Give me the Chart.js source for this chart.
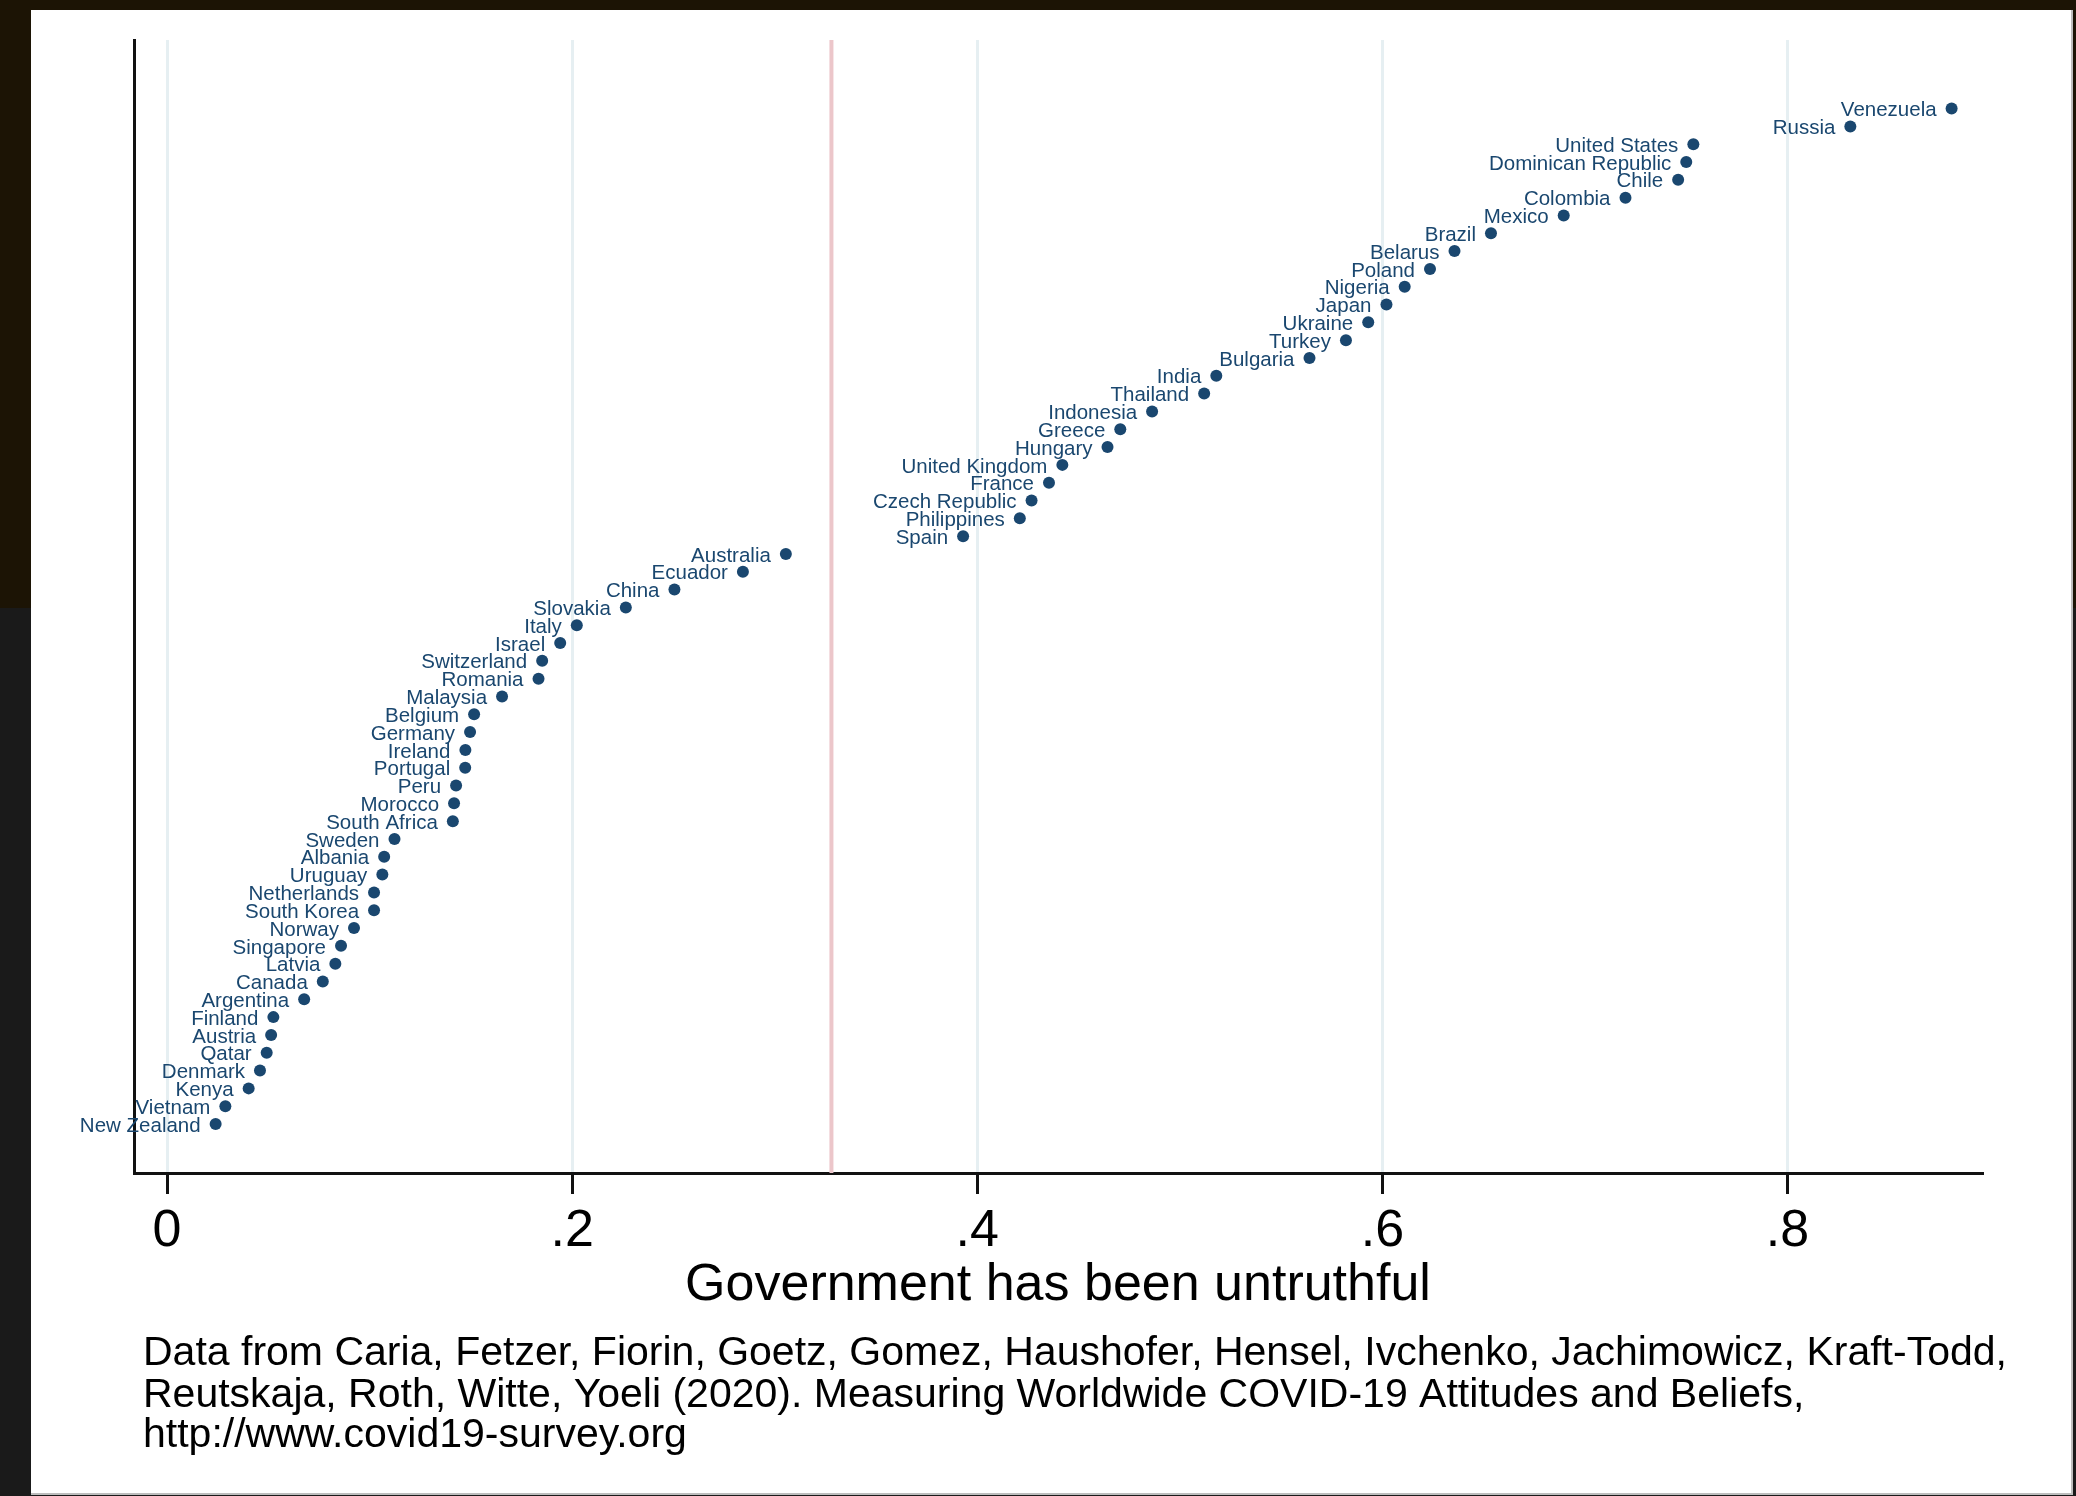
<!doctype html>
<html>
<head>
<meta charset="UTF-8">
<title>Government has been untruthful</title>
<script src="https://cdn.jsdelivr.net/npm/chart.js@4.4.1/dist/chart.umd.min.js"></script>
<style>
	html, body { margin: 0; padding: 0; }
	body {
		width: 2076px; height: 1496px; overflow: hidden;
		background: linear-gradient(to bottom, #1c1405 0, #1c1405 608px, #1a1a1a 608px);
	}
	#frame {
		position: absolute; left: 31px; top: 10px;
		width: 2040px; height: 1483px;
		background: #fff;
		border-right: 2px solid #bdbdbd; border-bottom: 2px solid #bdbdbd;
	}
</style>
</head>
<body>
<div id="frame"><canvas id="canvas"></canvas></div>
<script>
// countries, top of the chart to the bottom
var countries = ["Venezuela","Russia","United States","Dominican Republic","Chile","Colombia","Mexico","Brazil",
	"Belarus","Poland","Nigeria","Japan","Ukraine","Turkey","Bulgaria","India","Thailand","Indonesia","Greece",
	"Hungary","United Kingdom","France","Czech Republic","Philippines","Spain","Australia","Ecuador","China",
	"Slovakia","Italy","Israel","Switzerland","Romania","Malaysia","Belgium","Germany","Ireland","Portugal","Peru",
	"Morocco","South Africa","Sweden","Albania","Uruguay","Netherlands","South Korea","Norway","Singapore","Latvia",
	"Canada","Argentina","Finland","Austria","Qatar","Denmark","Kenya","Vietnam","New Zealand"];

// share saying government has been untruthful
var untruthful = [0.881,0.831,0.7535,0.750,0.746,0.720,0.6895,0.6536,
	0.6356,0.6235,0.611,0.602,0.593,0.582,0.564,0.518,0.512,0.4863,0.4706,
	0.4643,0.442,0.4354,0.4268,0.421,0.393,0.3055,0.2843,0.2505,
	0.2265,0.2023,0.1941,0.1852,0.1834,0.1654,0.1516,0.1496,0.1473,0.1472,0.1427,
	0.1417,0.1411,0.1123,0.1072,0.1063,0.1022,0.1022,0.0923,0.0859,0.0831,
	0.0769,0.0677,0.0525,0.0514,0.0492,0.0459,0.0403,0.0288,0.0240];

var meanUntruthful = 0.328;

var xTicks = [0, 0.2, 0.4, 0.6, 0.8];
var xTickLabels = ["0", ".2", ".4", ".6", ".8"];

var noteLines = [
	"Data from Caria, Fetzer, Fiorin, Goetz, Gomez, Haushofer, Hensel, Ivchenko, Jachimowicz, Kraft-Todd,",
	"Reutskaja, Roth, Witte, Yoeli (2020). Measuring Worldwide COVID-19 Attitudes and Beliefs,",
	"http://www.covid19-survey.org"
];

var yMin = -1.75, yMax = 61.85;
var navy = "#1a476f";

var points = countries.map(function(c, i){ return {x: untruthful[i], y: countries.length - i}; });

var pointLabels = {
	id: "pointLabels",
	afterDatasetsDraw: function(chart){
		var ctx = chart.ctx;
		var meta = chart.getDatasetMeta(1);
		ctx.save();
		ctx.font = '20.5px "Liberation Sans", Arial, sans-serif';
		ctx.fillStyle = navy;
		ctx.textAlign = "right";
		ctx.textBaseline = "middle";
		meta.data.forEach(function(pt, i){
			ctx.fillText(countries[i], pt.x - 15, pt.y + 2);
		});
		ctx.restore();
	}
};

var note = {
	id: "note",
	afterDraw: function(chart){
		var ctx = chart.ctx;
		ctx.save();
		ctx.font = '41px "Liberation Sans", Arial, sans-serif';
		ctx.fillStyle = "#000";
		ctx.textAlign = "left";
		ctx.textBaseline = "alphabetic";
		var base = [1355, 1397, 1437];
		noteLines.forEach(function(t, i){ ctx.fillText(t, 112, base[i]); });
		ctx.restore();
	}
};

window.onload = function(){
	var ctx = document.getElementById("canvas").getContext("2d");
	window.myChart = new Chart(ctx, {
		type: "scatter",
		data: {
			datasets: [
				{
					type: "line",
					data: [{x: meanUntruthful, y: yMin}, {x: meanUntruthful, y: yMax}],
					borderColor: "#ecc6ca",
					borderWidth: 4,
					pointRadius: 0,
					fill: false
				},
				{
					data: points,
					backgroundColor: navy,
					borderWidth: 0,
					pointRadius: 6,
					pointHoverRadius: 6
				}
			]
		},
		plugins: [pointLabels, note],
		options: {
			responsive: true,
			maintainAspectRatio: false,
			animation: false,
			events: [],
			layout: { padding: { left: 103, right: 89, top: 30, bottom: 0 } },
			plugins: { legend: { display: false }, tooltip: { enabled: false } },
			scales: {
				x: {
					type: "linear",
					min: -0.0163,
					max: 0.896,
					afterBuildTicks: function(s){ s.ticks = xTicks.map(function(v){ return {value: v}; }); },
					afterFit: function(s){ s.height = 320; },
					grid: {
						color: "#e6eff2",
						lineWidth: 3,
						tickColor: "#111",
						tickWidth: 3,
						tickLength: 21
					},
					border: { display: true, color: "#111", width: 3 },
					ticks: {
						padding: 6,
						color: "#000",
						font: { family: '"Liberation Sans", Arial, sans-serif', size: 52 },
						callback: function(v){ var i = xTicks.indexOf(v); return i >= 0 ? xTickLabels[i] : ""; }
					},
					title: {
						display: true,
						text: "Government has been untruthful",
						color: "#000",
						font: { family: '"Liberation Sans", Arial, sans-serif', size: 52 },
						padding: { top: 0, bottom: 176 }
					}
				},
				y: {
					type: "linear",
					min: yMin,
					max: yMax,
					afterFit: function(s){ s.width = 0; },
					grid: { display: false, drawTicks: false },
					border: { display: true, color: "#111", width: 3 },
					ticks: { display: false }
				}
			}
		}
	});
};
</script>
</body>
</html>
